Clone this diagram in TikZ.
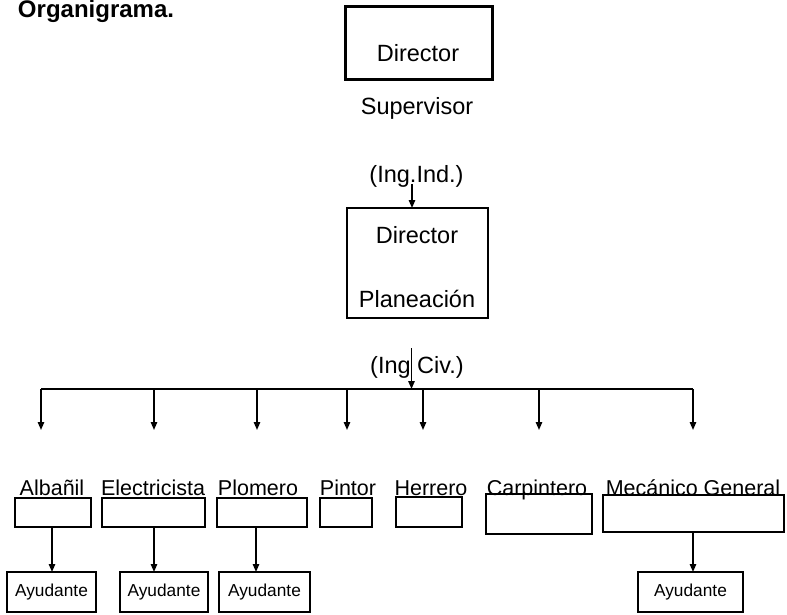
\documentclass[tikz,border=0pt]{standalone}
\usepackage{fontspec}
\setmainfont{Liberation Sans}
\usetikzlibrary{arrows.meta}

\begin{document}
\begin{tikzpicture}[
  x=0.5pt, y=-0.5pt,
  >={Triangle[length=4pt, width=3.2pt]},
  every node/.style={inner sep=0pt, outer sep=0pt},
  link/.style={line width=0.8pt},
  bigtext/.style={anchor=base, font=\fontsize{11.75}{14}\selectfont},
  tradetext/.style={anchor=base, font=\fontsize{10.75}{13}\selectfont},
  headbox/.style={draw, line width=1.5pt},
  tradebox/.style={draw, line width=0.8pt},
  helpbox/.style={draw, line width=0.8pt, minimum height=20pt,
    font=\fontsize{8.65}{10}\selectfont}
]
\useasboundingbox (0,0) rectangle (787,615);
\node[anchor=base west, font=\bfseries\fontsize{12}{14}\selectfont] (title)
  at (18,18) {Organigrama.};

% top of the chart
\node[headbox, minimum width=73.5pt, minimum height=36.5pt] (dirsup) at (418.5,43.5) {};
\node[bigtext] (dirsupT) at (418,61.5) {Director};
\node[bigtext] (sup) at (417,115) {Supervisor};
\node[bigtext] (ingind) at (416.5,183) {(Ing.Ind.)};
\node[tradebox, minimum width=70.5pt, minimum height=55pt] (plan) at (417.5,263) {};
\node[bigtext] (planT1) at (417,243) {Director};
\node[bigtext] (planT2) at (417,307) {Planeación};
\node[bigtext] (ingciv) at (417,373) {(Ing Civ.)};

\coordinate (indA) at (412,184);
\draw[link, ->] (indA) -- (indA |- plan.north);

% rail to the trades
\coordinate (railL) at (41,389);
\coordinate (railR) at (693,389);
\coordinate (civA) at (411.5,348);
\draw[link, ->] (civA) -- (civA |- railL);
\draw[link] (railL) -- (railR);

% trades
\node[tradetext] (albL) at (52,495) {Albañil};
\node[tradetext] (eleL) at (153,495) {Electricista};
\node[tradetext] (ploL) at (258,495) {Plomero};
\node[tradetext] (pinL) at (348,495) {Pintor};
\node[tradetext] (herL) at (431,495) {Herrero};
\node[tradetext] (carL) at (537,495) {Carpintero};
\node[tradetext] (mecL) at (693,495) {Mecánico General};

\node[tradebox, minimum width=38pt, minimum height=14.5pt] (alb) at (53,512.5) {};
\node[tradebox, minimum width=51.5pt, minimum height=14.5pt] (ele) at (153.5,512.5) {};
\node[tradebox, minimum width=45pt, minimum height=14.5pt] (plo) at (262,512.5) {};
\node[tradebox, minimum width=26pt, minimum height=14.5pt] (pin) at (346,512.5) {};
\node[tradebox, minimum width=33pt, minimum height=15pt] (her) at (429,512) {};
\node[tradebox, minimum width=53pt, minimum height=20pt] (car) at (539,514) {};
\node[tradebox, minimum width=90.5pt, minimum height=18.5pt] (mec) at (693.5,513.5) {};

\foreach \x/\j in {41/alb, 154/ele, 257/plo, 347/pin, 423/her, 539/car, 693/mec}{
  \coordinate (\j-in) at (\x,430);
  \draw[link, ->] (\j-in |- railL) -- (\j-in);
}

% helpers
\node[helpbox, minimum width=44.5pt] (ay1) at (51.5,592) {Ayudante};
\node[helpbox, minimum width=44pt] (ay2) at (164,592) {Ayudante};
\node[helpbox, minimum width=45.5pt] (ay3) at (264.5,592) {Ayudante};
\node[helpbox, minimum width=52.5pt] (ay4) at (690.5,592) {Ayudante};

\foreach \x/\up/\dn in {52/alb/ay1, 154/ele/ay2, 256/plo/ay3, 693/mec/ay4}
  \draw[link, ->] (\x,0 |- \up.south) -- (\x,0 |- \dn.north);
\end{tikzpicture}
\end{document}
